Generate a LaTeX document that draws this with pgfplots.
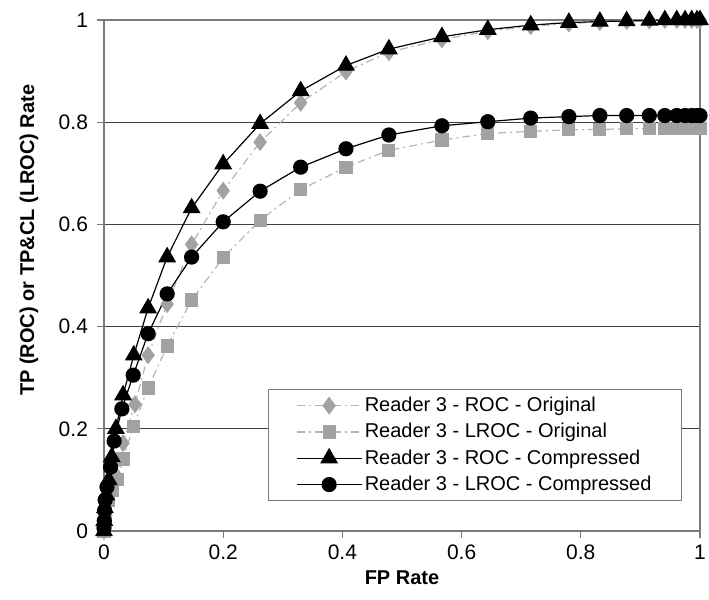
\documentclass[border=0pt]{standalone}
\usepackage{fontspec}
\setmainfont{Liberation Sans}
\usepackage{pgfplots}
\pgfplotsset{compat=1.18}
\definecolor{gmark}{HTML}{A2A2A2}
\definecolor{gline}{HTML}{B4B4B4}
\definecolor{axgray}{HTML}{7A7A7A}
\definecolor{gridc}{HTML}{404040}
\begin{document}
\fontsize{10}{12}\selectfont
\begin{tikzpicture}
\begin{axis}[
  at={(0,0)}, anchor=south west,
  scale only axis, width=298pt, height=255.5pt,
  xmin=0, xmax=1, ymin=0, ymax=1,
  xtick={0,0.2,0.4,0.6,0.8,1},
  ytick={0,0.2,0.4,0.6,0.8,1},
  xtick pos=left, ytick pos=left,
  tick align=outside, major tick length=3.5pt,
  tick style={axgray, line width=0.6pt},
  axis line style={axgray, line width=0.7pt},
  ymajorgrids, grid style={gridc, line width=0.6pt},
  /pgf/number format/assume math mode=true,
  ticklabel style={font=\fontsize{10.5}{12}\selectfont},
  yticklabel style={xshift=-1pt},
  xlabel={\textbf{FP Rate}},
  ylabel={\textbf{TP (ROC) or TP\&CL (LROC) Rate}},
  xlabel style={at={(axis description cs:0.5,-0.092)}, anchor=center},
  ylabel style={at={(axis description cs:-0.126,0.569)}, anchor=center},
  clip=false,
  legend style={at={(axis description cs:0.970,0.278)}, anchor=north east,
    draw=axgray, line width=0.6pt, inner xsep=13.75pt, inner ysep=1.5pt,
    nodes={inner xsep=1.25pt, inner ysep=2.2pt},
    font=\fontsize{10}{12}\selectfont},
  legend cell align=left,
  legend image code/.code={\draw[mark repeat=2, mark phase=2, #1] plot coordinates {(0pt,0pt) (16.25pt,0pt) (32.5pt,0pt)};},
]
\addplot[gline, line width=0.6pt, dash pattern=on 4pt off 2pt on 1pt off 2pt,
  mark=diamond*, mark size=4pt, mark options={solid, fill=gmark, draw=gmark}]
coordinates {
(0,0) (0.001,0.01) (0.003,0.03) (0.007,0.06) (0.013,0.08) (0.022,0.106)
(0.032,0.172) (0.052,0.248) (0.074,0.344) (0.106,0.444) (0.147,0.561)
(0.2,0.666) (0.262,0.761) (0.33,0.838) (0.406,0.899) (0.478,0.937)
(0.567,0.962) (0.644,0.978) (0.716,0.988) (0.78,0.993) (0.832,0.996)
(0.877,0.998) (0.915,0.999) (0.941,1) (0.961,1) (0.975,1) (0.986,1) (0.995,1) (1,1)
};
\addlegendentry{Reader 3 - ROC - Original}
\addplot[gline, line width=0.6pt, dash pattern=on 4pt off 2pt on 1pt off 2pt,
  mark=square*, mark size=3pt, mark options={solid, fill=gmark, draw=gmark}]
coordinates {
(0,0) (0.001,0.01) (0.003,0.03) (0.007,0.06) (0.014,0.08) (0.022,0.10)
(0.032,0.141) (0.049,0.204) (0.074,0.28) (0.106,0.362) (0.147,0.452)
(0.2,0.535) (0.262,0.608) (0.33,0.668) (0.406,0.712) (0.478,0.745)
(0.567,0.765) (0.644,0.778) (0.716,0.782) (0.78,0.785) (0.832,0.786)
(0.877,0.787) (0.915,0.787) (0.941,0.787) (0.961,0.787) (0.975,0.787) (0.986,0.787) (0.995,0.787) (1,0.787)
};
\addlegendentry{Reader 3 - LROC - Original}
\addplot[black, line width=0.6pt,
  mark=triangle*, mark size=4.6pt, mark options={solid, fill=black}]
coordinates {
(0,0) (0.0005,0.02) (0.0015,0.045) (0.004,0.07) (0.008,0.1) (0.013,0.145)
(0.02,0.2) (0.032,0.266) (0.05,0.344) (0.074,0.436) (0.106,0.536)
(0.147,0.632) (0.2,0.718) (0.262,0.797) (0.33,0.861) (0.406,0.911)
(0.478,0.943) (0.567,0.967) (0.644,0.981) (0.716,0.99) (0.78,0.995)
(0.832,0.997) (0.877,0.998) (0.915,0.999) (0.941,1) (0.961,1) (0.975,1) (0.986,1) (0.995,1) (1,1)
};
\addlegendentry{Reader 3 - ROC - Compressed}
\addplot[black, line width=0.6pt,
  mark=*, mark size=3.5pt, mark options={solid, fill=black}]
coordinates {
(0,0.006) (0.0005,0.02) (0.001,0.04) (0.002,0.061) (0.005,0.086) (0.011,0.125)
(0.017,0.176) (0.030,0.239) (0.049,0.305) (0.074,0.386) (0.106,0.464)
(0.147,0.536) (0.2,0.605) (0.262,0.665) (0.33,0.712) (0.406,0.748)
(0.478,0.775) (0.567,0.793) (0.644,0.801) (0.716,0.808) (0.78,0.811)
(0.832,0.813) (0.877,0.813) (0.915,0.813) (0.941,0.813) (0.961,0.813) (0.975,0.813) (0.986,0.813) (0.995,0.813) (1,0.813)
};
\addlegendentry{Reader 3 - LROC - Compressed}
\end{axis}
\pgfresetboundingbox
\path (-52pt,-34.5pt) rectangle (302.5pt,265.5pt);
\end{tikzpicture}
\end{document}
